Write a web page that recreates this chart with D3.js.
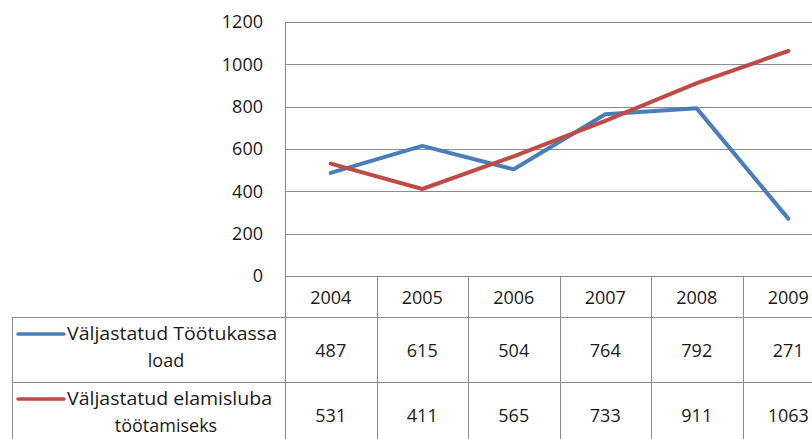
<!DOCTYPE html>
<html><head><meta charset="utf-8">
<script src="https://cdn.jsdelivr.net/npm/d3@7"></script>
<style>body{margin:0;background:#fff;} text{font-family:"Open Sans","Noto Sans",sans-serif;fill:#1a1a1a;}</style>
</head><body>
<svg id="c" width="812" height="439"></svg>
<script>
const years = ["2004","2005","2006","2007","2008","2009"];
const seriesNames = [["Väljastatud Töötukassa","load"],["Väljastatud elamisluba","töötamiseks"]];
const tootukassa = [487,615,504,764,792,271];
const elamisluba = [531,411,565,733,911,1063];
const yTicks = [0,200,400,600,800,1000,1200];
const colors = ["#4A7EBB","#BE4B48"];
const seriesValues = [tootukassa, elamisluba];

const svg = d3.select("#c");
const plotL = 285, colW = 91.5, plotTop = 22, plotBottom = 276;
const x = d3.scaleBand().domain(years).range([plotL, plotL + colW*years.length]);
const y = d3.scaleLinear().domain([0,1200]).range([plotBottom, plotTop]);
const grid = "#8c8c8c";
const fs = 18;

// gridlines
svg.append("g").selectAll("line").data(yTicks.filter(d=>d>0)).join("line")
  .attr("x1", plotL).attr("x2", 812).attr("y1", d=>Math.round(y(d))+0.5).attr("y2", d=>Math.round(y(d))+0.5)
  .attr("stroke", grid).attr("stroke-width",1);
// y axis labels
svg.append("g").selectAll("text").data(yTicks).join("text")
  .attr("x", 263).attr("y", d=>y(d)).attr("dy","0.35em").attr("text-anchor","end")
  .style("font-size", fs+"px").text(d=>d);

// table geometry
const rowH = [276, 317, 382, 448];
const tableL = 12, tableR = plotL + colW*years.length;
const tg = svg.append("g").attr("stroke", grid).attr("stroke-width",1).attr("fill","none");
tg.append("line").attr("x1", plotL).attr("x2", tableR).attr("y1", rowH[0]+0.5).attr("y2", rowH[0]+0.5);
[rowH[1], rowH[2]].forEach(r => tg.append("line").attr("x1", tableL).attr("x2", tableR).attr("y1", r+0.5).attr("y2", r+0.5));
tg.append("line").attr("x1", plotL+0.5).attr("x2", plotL+0.5).attr("y1", plotTop).attr("y2", 439);
tg.append("line").attr("x1", tableL+0.5).attr("x2", tableL+0.5).attr("y1", rowH[1]).attr("y2", 439);
years.forEach(yr => {
  const xr = Math.round(x(yr) + x.bandwidth()) + 0.5;
  tg.append("line").attr("x1", xr).attr("x2", xr).attr("y1", rowH[0]).attr("y2", 439);
});

// header years
svg.append("g").selectAll("text").data(years).join("text")
  .attr("x", d=>x(d)+x.bandwidth()/2).attr("y", (rowH[0]+rowH[1])/2+1).attr("dy","0.35em")
  .attr("text-anchor","middle").style("font-size", fs+"px").text(d=>d);

// values rows
seriesValues.forEach((vals, i) => {
  const cy = (rowH[i+1] + rowH[i+1] + 65)/2;
  svg.append("g").selectAll("text").data(vals).join("text")
    .attr("x", (d,j)=>x(years[j])+x.bandwidth()/2).attr("y", cy+1).attr("dy","0.35em")
    .attr("text-anchor","middle").style("font-size", fs+"px").text(d=>d);
  const ly1 = rowH[i+1] + 17, ly2 = rowH[i+1] + 44;
  svg.append("line").attr("x1", 18).attr("x2", 64).attr("y1", ly1).attr("y2", ly1)
    .attr("stroke", colors[i]).attr("stroke-width", 3.5).attr("stroke-linecap","round");
  svg.append("text").attr("x", 67).attr("y", ly1).attr("dy","0.35em").style("font-size", fs+"px")
    .attr("textLength", i===0 ? 210 : 205).attr("lengthAdjust","spacingAndGlyphs").text(seriesNames[i][0]);
  svg.append("text").attr("x", 166).attr("y", ly2).attr("dy","0.35em").attr("text-anchor","middle")
    .style("font-size", fs+"px").text(seriesNames[i][1]);
});

// lines
const line = d3.line().x((d,j)=>x(years[j])+x.bandwidth()/2).y(d=>y(d));
seriesValues.forEach((vals,i) => {
  svg.append("path").datum(vals).attr("d", line).attr("fill","none")
    .attr("stroke", colors[i]).attr("stroke-width", 4).attr("stroke-linejoin","round").attr("stroke-linecap","round");
});
</script>
</body></html>
